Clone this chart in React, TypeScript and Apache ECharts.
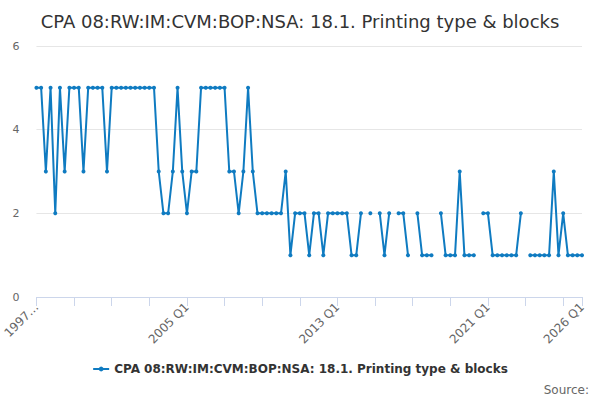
import React, { useEffect, useRef } from "react";
import * as echarts from "echarts";

const TITLE = "CPA 08:RW:IM:CVM:BOP:NSA: 18.1. Printing type & blocks";
const SERIES_NAME = "CPA 08:RW:IM:CVM:BOP:NSA: 18.1. Printing type & blocks";

const startYear = 1997;
const endYear = 2026;
const categories: string[] = [];
for (let y = startYear; y <= endYear; y++) {
  for (let q = 1; q <= 4; q++) {
    if (y === endYear && q > 1) break;
    categories.push(`${y} Q${q}`);
  }
}

const values: (number | null)[] = [
  5, 5, 3, 5, 2, 5, 3, 5, 5, 5,
  3, 5, 5, 5, 5, 3, 5, 5, 5, 5,
  5, 5, 5, 5, 5, 5, 3, 2, 2, 3,
  5, 3, 2, 3, 3, 5, 5, 5, 5, 5,
  5, 3, 3, 2, 3, 5, 3, 2, 2, 2,
  2, 2, 2, 3, 1, 2, 2, 2, 1, 2,
  2, 1, 2, 2, 2, 2, 2, 1, 1, 2,
  null, 2, null, 2, 1, 2, null, 2, 2, 1,
  null, 2, 1, 1, 1, null, 2, 1, 1, 1,
  3, 1, 1, 1, null, 2, 2, 1, 1, 1,
  1, 1, 1, 2, null, 1, 1, 1, 1, 1,
  3, 1, 2, 1, 1, 1, 1,
];

const yTicks = { min: 0, max: 6, interval: 2 };

export default function App() {
  const ref = useRef<HTMLDivElement>(null);
  useEffect(() => {
    document.body.style.margin = "0";
    if (!ref.current) return;
    const chart = echarts.init(ref.current, null, { renderer: "svg" });
    const last = categories.length - 1;
    chart.setOption({
      animation: false,
      backgroundColor: "#ffffff",
      textStyle: { fontFamily: "DejaVu Sans" },
      title: {
        text: TITLE,
        left: "center",
        top: 7,
        textStyle: {
          fontFamily: "DejaVu Sans",
          fontSize: 18,
          fontWeight: "normal",
          color: "#333333",
        },
      },
      grid: { left: 33, right: 18, top: 46, bottom: 103, containLabel: false },
      xAxis: {
        type: "category",
        data: categories,
        boundaryGap: false,
        axisLine: { lineStyle: { color: "#ccd6eb", width: 1 } },
        axisTick: {
          length: 9,
          lineStyle: { color: "#ccd6eb" },
          interval: (i: number) => i % 8 === 0 || i === last,
        },
        axisLabel: {
          rotate: 45,
          margin: 8,
          color: "#666666",
          fontSize: 12,
          fontFamily: "DejaVu Sans",
          interval: (i: number) => i % 32 === 0 || i === last,
          formatter: (v: string, i: number) => (i === 0 ? v.slice(0, 4) + "…" : v),
        },
        splitLine: { show: false },
      },
      yAxis: {
        type: "value",
        min: yTicks.min,
        max: yTicks.max,
        interval: yTicks.interval,
        axisLine: { show: false },
        axisTick: { show: false },
        axisLabel: {
          color: "#666666",
          fontSize: 11,
          margin: 17,
          fontFamily: "DejaVu Sans",
        },
        splitLine: { lineStyle: { color: "#e6e6e6" } },
      },
      legend: {
        bottom: 20,
        left: "center",
        itemWidth: 16,
        itemHeight: 6,
        itemGap: 6,
        textStyle: {
          fontFamily: "DejaVu Sans",
          fontSize: 12,
          fontWeight: "bold",
          color: "#333333",
        },
        data: [SERIES_NAME],
      },
      graphic: [
        {
          type: "text",
          right: 11,
          bottom: 4,
          style: {
            text: "Source:",
            fontFamily: "DejaVu Sans",
            fontSize: 12,
            fill: "#666666",
          },
        },
      ],
      series: [
        {
          name: SERIES_NAME,
          type: "line",
          data: values,
          connectNulls: false,
          showSymbol: true,
          showAllSymbol: true,
          symbol: "circle",
          symbolSize: 4,
          color: "#0f7bc1",
          lineStyle: { width: 2, color: "#0f7bc1" },
          itemStyle: { color: "#0f7bc1" },
        },
      ],
    });
    return () => chart.dispose();
  }, []);
  return <div ref={ref} style={{ width: 600, height: 400 }} />;
}
